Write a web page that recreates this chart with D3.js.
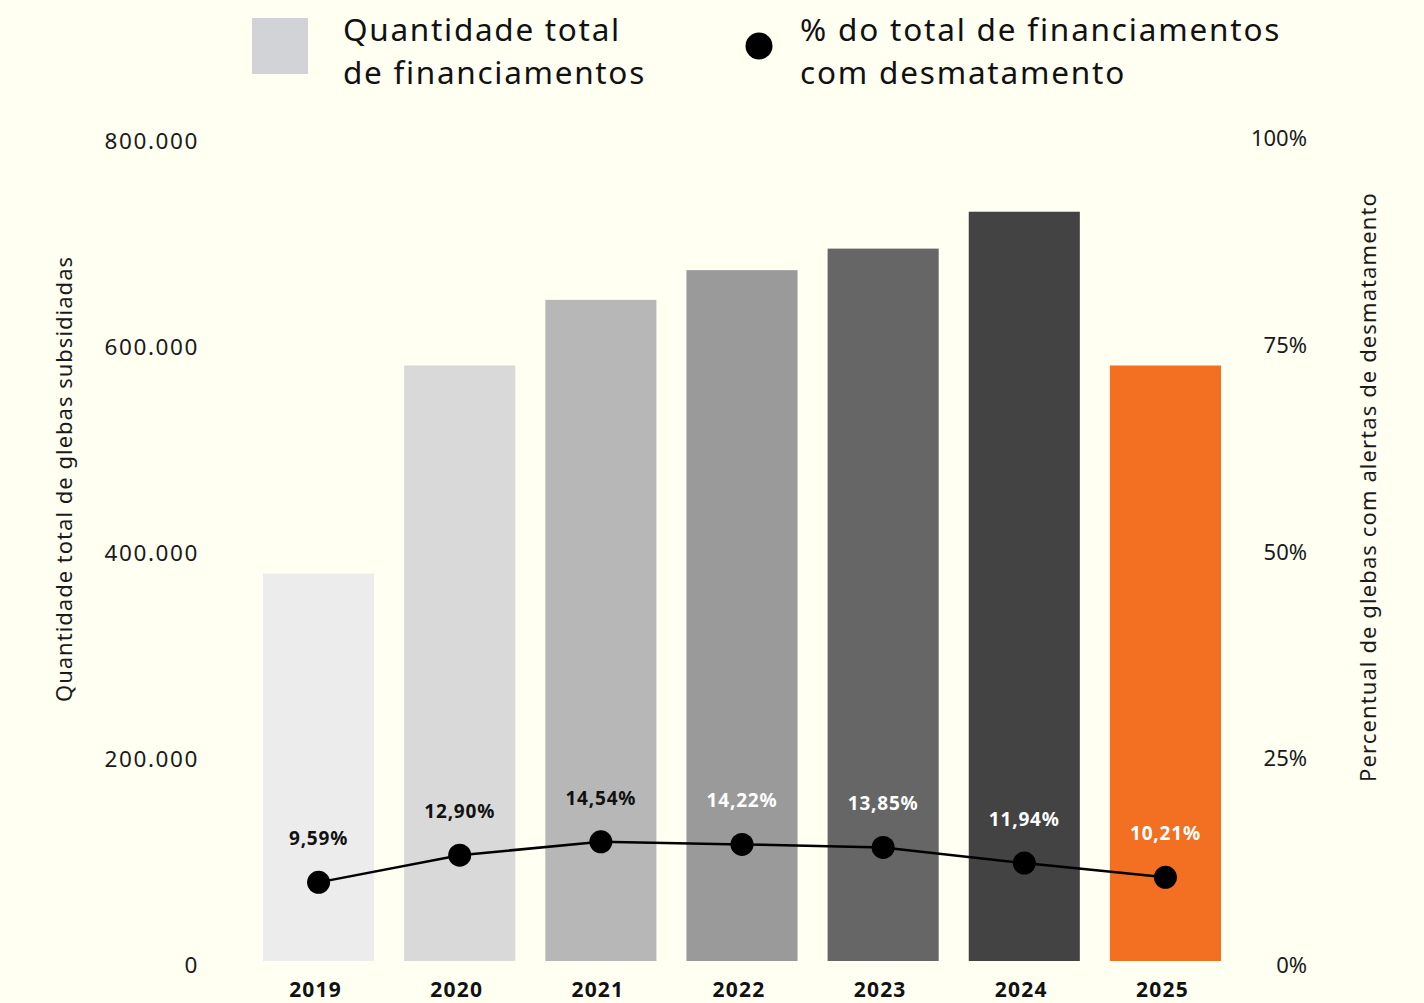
<!DOCTYPE html>
<html lang="pt-BR">
<head>
<meta charset="utf-8">
<script src="https://cdn.jsdelivr.net/npm/d3@7"></script>
<style>
  html, body { margin: 0; padding: 0; background: #fffff2; }
  svg { display: block; font-family: "Noto Sans", "Open Sans", sans-serif; }
</style>
</head>
<body>
<svg id="chart" width="1424" height="1003"></svg>
<script>
// Anos e séries
const years = ["2019", "2020", "2021", "2022", "2023", "2024", "2025"];
const totalFinanciamentos = [378000, 581000, 645000, 674000, 695000, 731000, 581000];
const pctDesmatamento = [9.59, 12.90, 14.54, 14.22, 13.85, 11.94, 10.21];
const barColors = ["#ececec", "#d9d9d9", "#b7b7b7", "#9a9a9a", "#666666", "#434343", "#f36f21"];
const labelColors = ["#111", "#111", "#111", "#fff", "#fff", "#fff", "#fff"];

// Rótulos dos eixos
const leftTicks = [0, 200000, 400000, 600000, 800000];
const rightTicks = [0, 25, 50, 75, 100];
const leftTitle = "Quantidade total de glebas subsidiadas";
const rightTitle = "Percentual de glebas com alertas de desmatamento";
const legendBars = ["Quantidade total", "de financiamentos"];
const legendDots = ["% do total de financiamentos", "com desmatamento"];

const svg = d3.select("#chart");
const ptNum = d3.formatLocale({ decimal: ",", thousands: ".", grouping: [3], currency: ["R$", ""] });
const fmtInt = ptNum.format(",.0f");
const fmtPct = ptNum.format(".2f");

const x = d3.scaleBand().domain(years).range([248, 1236]).paddingInner(0.213).paddingOuter(0.1065);
const yLeft = d3.scaleLinear().domain([0, 800000]).range([961, 141]);
const yRight = d3.scaleLinear().domain([0, 100]).range([961, 141]);
// Escalas dos rótulos dos eixos (textos um pouco mais espaçados que a área das barras)
const yLeftLabels = yLeft.copy().range([965, 141]);
const yRightLabels = yRight.copy().range([965, 138]);

// Barras
svg.append("g").selectAll("rect")
  .data(years)
  .join("rect")
  .attr("x", d => x(d))
  .attr("width", x.bandwidth())
  .attr("y", (d, i) => yLeft(totalFinanciamentos[i]))
  .attr("height", (d, i) => yLeft(0) - yLeft(totalFinanciamentos[i]))
  .attr("fill", (d, i) => barColors[i]);

// Eixo esquerdo
const leftAxis = d3.axisLeft(yLeftLabels).tickValues(leftTicks).tickSize(0).tickPadding(0)
  .tickFormat(d => fmtInt(d));
const gl = svg.append("g").attr("transform", "translate(199,0)").call(leftAxis);
gl.select(".domain").remove();
gl.selectAll("text").attr("font-size", 22.5).attr("fill", "#1a1a1a").attr("letter-spacing", 1.6)
  .attr("font-family", "'Noto Sans', sans-serif").attr("dy", "0.35em");

// Eixo direito
const rightAxis = d3.axisRight(yRightLabels).tickValues(rightTicks).tickSize(0).tickPadding(0)
  .tickFormat(d => d + "%");
const gr = svg.append("g").attr("transform", "translate(1307,0)").call(rightAxis);
gr.select(".domain").remove();
gr.selectAll("text").attr("font-size", 22).attr("fill", "#1a1a1a")
  .attr("font-family", "'Noto Sans', sans-serif").attr("text-anchor", "end").attr("dy", "0.35em");

// Eixo x (anos)
const xAxis = d3.axisBottom(x).tickSize(0).tickPadding(0);
const gx = svg.append("g").attr("transform", "translate(0,961)").call(xAxis);
gx.select(".domain").remove();
gx.selectAll("text").attr("font-size", 21).attr("font-weight", 700).attr("fill", "#111")
  .attr("letter-spacing", 1.2).attr("dx", -3)
  .attr("font-family", "'Noto Sans', sans-serif").attr("dy", "1.7em");

// Títulos dos eixos
svg.append("text")
  .attr("transform", "translate(72,479) rotate(-90)")
  .attr("text-anchor", "middle").attr("font-size", 22).attr("letter-spacing", 1)
  .attr("fill", "#1a1a1a")
  .text(leftTitle);
svg.append("text")
  .attr("transform", "translate(1376,487) rotate(-90)")
  .attr("text-anchor", "middle").attr("font-size", 22).attr("letter-spacing", 1.1)
  .attr("fill", "#1a1a1a")
  .text(rightTitle);

// Linha de percentual
const cx = (d, i) => x(years[i]) + x.bandwidth() / 2;
const line = d3.line().x((d, i) => cx(d, i)).y(d => yRight(d));
svg.append("path").datum(pctDesmatamento)
  .attr("d", line).attr("fill", "none").attr("stroke", "#000").attr("stroke-width", 2.5);

svg.append("g").selectAll("circle")
  .data(pctDesmatamento)
  .join("circle")
  .attr("cx", cx).attr("cy", d => yRight(d)).attr("r", 11.5).attr("fill", "#000");

svg.append("g").selectAll("text")
  .data(pctDesmatamento)
  .join("text")
  .attr("x", cx).attr("y", d => yRight(d) - 44)
  .attr("text-anchor", "middle").attr("dominant-baseline", "central")
  .attr("font-size", 19).attr("font-weight", 700).attr("letter-spacing", 0.8)
  .attr("fill", (d, i) => labelColors[i])
  .text(d => fmtPct(d) + "%");

// Legenda
const lg = svg.append("g");
lg.append("rect").attr("x", 252).attr("y", 18).attr("width", 56).attr("height", 56).attr("fill", "#d1d3d6");
lg.selectAll("text.leg-bar").data(legendBars).join("text")
  .attr("class", "leg-bar")
  .attr("x", 343).attr("y", (d, i) => 41 + i * 43)
  .attr("font-size", 31.5).attr("letter-spacing", 1.7).attr("fill", "#111")
  .text(d => d);
lg.append("circle").attr("cx", 759).attr("cy", 46).attr("r", 13.5).attr("fill", "#000");
lg.selectAll("text.leg-dot").data(legendDots).join("text")
  .attr("class", "leg-dot")
  .attr("x", 800).attr("y", (d, i) => 41 + i * 43)
  .attr("font-size", 31.5).attr("letter-spacing", 1.8).attr("fill", "#111")
  .text(d => d);
</script>
</body>
</html>
